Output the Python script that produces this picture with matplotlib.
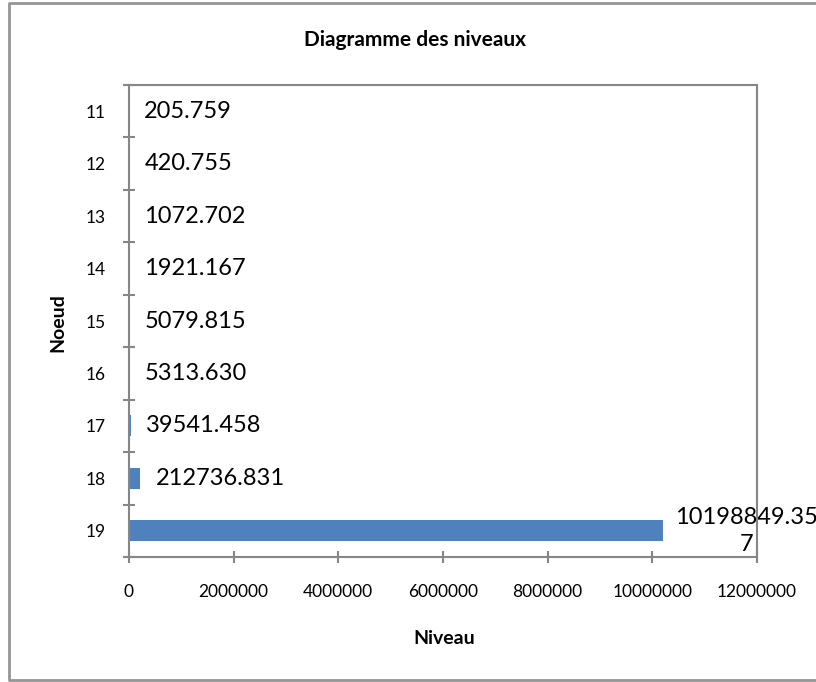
import matplotlib
matplotlib.use("Agg")
import matplotlib.pyplot as plt
from matplotlib.lines import Line2D
from matplotlib.ticker import FixedLocator, NullFormatter, FixedFormatter

plt.rcParams["font.family"] = ["Lato", "DejaVu Sans"]

noeuds = ["11", "12", "13", "14", "15", "16", "17", "18", "19"]
niveaux = [205.759, 420.755, 1072.702, 1921.167, 5079.815, 5313.630,
           39541.458, 212736.831, 10198849.357]
x_ticks = [0, 2000000, 4000000, 6000000, 8000000, 10000000, 12000000]

BAR_COLOR = "#4F81BD"
AXIS_GRAY = "#868686"
W, H = 816, 682

fig = plt.figure(figsize=(W / 100, H / 100), dpi=100)
fig.patch.set_facecolor("white")

# outer chart frame (left, top and bottom edges; right edge runs off the image)
frame_x = [1.05, 8.5 / W, 8.5 / W, 1.05]
frame_y = [1 - 3 / H, 1 - 3 / H, 1 - 680 / H, 1 - 680 / H]
fig.add_artist(Line2D(frame_x, frame_y, transform=fig.transFigure,
                      color="#959595", linewidth=2))

ax = fig.add_axes([129 / W, 1 - 557 / H, 628 / W, 472 / H])
pos = list(range(len(noeuds)))
ax.barh(pos, niveaux, height=0.4, color=BAR_COLOR, zorder=2)

ax.set_xlim(0, 12000000)
ax.set_ylim(len(noeuds) - 0.5, -0.5)

# category boundaries carry the tick marks, centres carry the labels
ax.yaxis.set_major_locator(FixedLocator([i - 0.5 for i in range(len(noeuds) + 1)]))
ax.yaxis.set_major_formatter(NullFormatter())
ax.yaxis.set_minor_locator(FixedLocator(pos))
ax.yaxis.set_minor_formatter(FixedFormatter(noeuds))
ax.tick_params(axis="y", which="major", direction="inout", length=8.6,
               width=1.5, color=AXIS_GRAY)
ax.tick_params(axis="y", which="minor", length=0, pad=17, labelsize=12.5)

ax.set_xticks(x_ticks)
ax.set_xticklabels([str(t) for t in x_ticks])
ax.tick_params(axis="x", direction="inout", length=8.6, width=1.5,
               color=AXIS_GRAY, pad=15, labelsize=12.5)

for side in ["left", "bottom", "top", "right"]:
    ax.spines[side].set_color(AXIS_GRAY)
    ax.spines[side].set_linewidth(1.5)
    ax.spines[side].set_zorder(3)

for p, v in zip(pos, niveaux):
    txt = f"{v:.3f}"
    if len(txt) > 11:
        # long value wraps onto a second line, centred
        txt = txt[:11] + "\n" + txt[11:]
        ax.annotate(txt, (v, p), xytext=(60, 0), textcoords="offset points",
                    ha="center", va="center", multialignment="center",
                    fontsize=17, linespacing=1.35, annotation_clip=False)
    else:
        ax.annotate(txt, (v, p), xytext=(11, 0), textcoords="offset points",
                    ha="left", va="center", fontsize=17)

fig.text(415 / W, 1 - 40 / H, "Diagramme des niveaux", ha="center",
         va="center", fontsize=15, fontweight="bold")
fig.text(444 / W, 1 - 639 / H, "Niveau", ha="center", va="center",
         fontsize=14, fontweight="bold")
fig.text(58 / W, 1 - 323 / H, "Noeud", ha="center", va="center",
         rotation=90, fontsize=14, fontweight="bold")

fig.savefig("out.png", dpi=100, facecolor="white")
